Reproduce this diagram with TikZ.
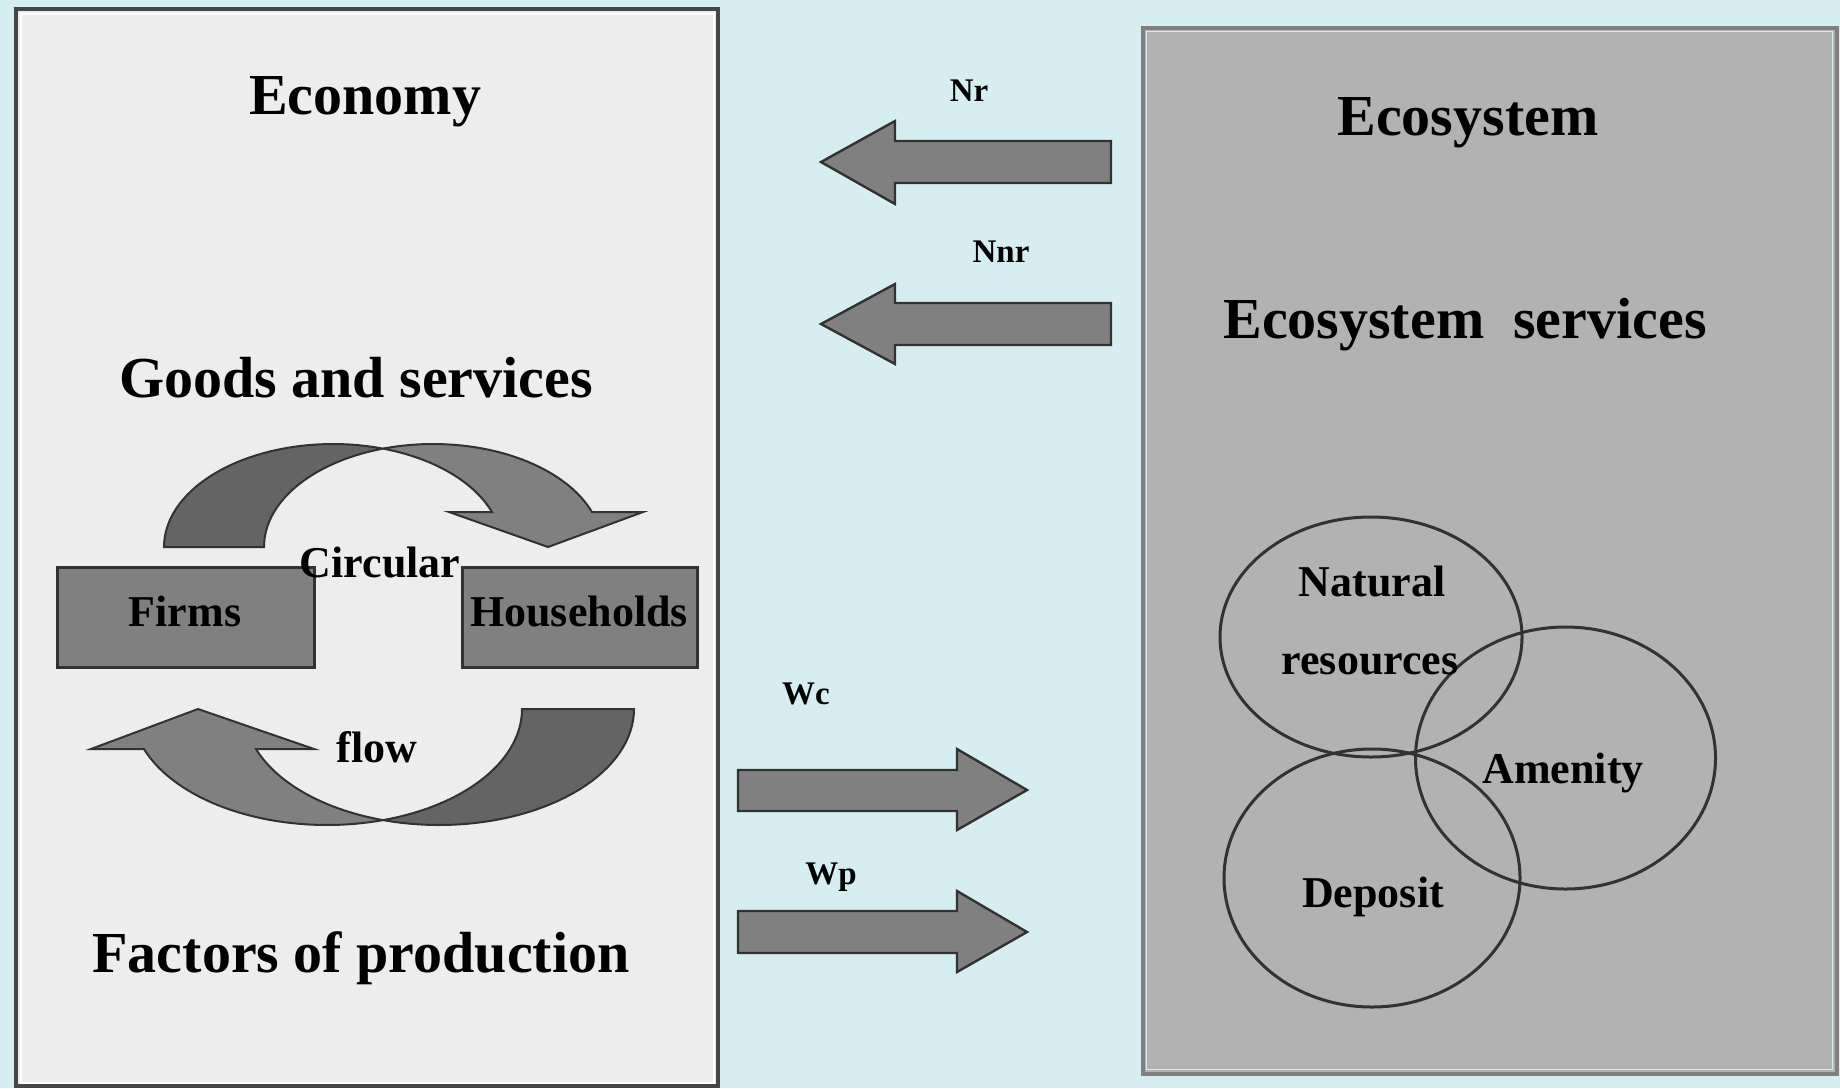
\documentclass[tikz,border=0pt]{standalone}
\usepackage{fontspec}
\setmainfont{Liberation Serif}
\definecolor{bg}{RGB}{214,238,242}
\definecolor{econfill}{RGB}{237,237,237}
\definecolor{ecofill}{RGB}{178,178,178}
\definecolor{arrowfill}{RGB}{128,128,128}
\definecolor{darkband}{RGB}{100,100,100}
\definecolor{edge}{RGB}{50,50,50}
\definecolor{ecoedge}{RGB}{128,128,128}
\tikzset{
  title/.style={font=\fontsize{29pt}{32pt}\selectfont\bfseries, inner sep=0pt, anchor=base},
  flowlbl/.style={font=\fontsize{16.5pt}{18pt}\selectfont\bfseries, inner sep=0pt, anchor=base},
  boxlbl/.style={font=\fontsize{22pt}{24pt}\selectfont\bfseries, inner sep=0pt, anchor=base},
  blockarrow/.style={fill=arrowfill, draw=edge, line width=1.2pt, line join=miter},
  bandlight/.style={fill=arrowfill, draw=edge, line width=1pt, line join=miter},
  banddark/.style={fill=darkband, draw=edge, line width=1pt, line join=miter},
  agentbox/.style={fill=arrowfill, draw=edge, line width=1.5pt},
  venn/.style={draw=edge, line width=1.5pt}
}
\begin{document}
\begin{tikzpicture}[x=0.5pt,y=-0.5pt]
\fill[bg] (0,0) rectangle (1840,1088);
\useasboundingbox (0,0) rectangle (1840,1088);

% Economy box
\fill[econfill] (16,9) rectangle (718,1086);
\draw[white, line width=1pt] (20.5,13.5) rectangle (713.5,1082.5);
\draw[edge!90, line width=2pt] (16,9) rectangle (718,1086);

% Ecosystem box
\fill[ecofill] (1142.5,27.5) rectangle (1836.5,1073.5);
\draw[bg, line width=0.7pt] (1146.5,31.5) rectangle (1832.5,1069.5);
\draw[ecoedge, line width=2pt] (1142.5,27.5) rectangle (1836.5,1073.5);

% titles
\node[title] (economy) at (365,114) {Economy};
\node[title] (goods) at (356,397) {Goods and services};
\node[title] (factors) at (361,972) {Factors of production};
\node[title] (ecosystem) at (1468,135) {Ecosystem};
\node[title] (ecoserv) at (1465,338) {Ecosystem\ \ services};

% block arrows between the sectors
\draw[blockarrow] (821,162) -- (895,121) -- (895,141) -- (1111,141) -- (1111,183) -- (895,183) -- (895,204) -- cycle;
\draw[blockarrow] (821,324) -- (895,284) -- (895,303) -- (1111,303) -- (1111,345) -- (895,345) -- (895,364) -- cycle;
\draw[blockarrow] (738,770) -- (957,770) -- (957,749) -- (1027,790) -- (957,830) -- (957,811) -- (738,811) -- cycle;
\draw[blockarrow] (738,911) -- (957,911) -- (957,891) -- (1027,932) -- (957,972) -- (957,953) -- (738,953) -- cycle;

\node[flowlbl] (nr) at (969,101) {Nr};
\node[flowlbl] (nnr) at (1001,262) {Nnr};
\node[flowlbl] (wc) at (806,704) {Wc};
\node[flowlbl] (wp) at (831,884) {Wp};

% Firms and households
\draw[agentbox] (57,567) rectangle (314,667);
\draw[agentbox] (462,567) rectangle (697,667);
\node[boxlbl] (firms) at (185,626) {Firms};
\node[boxlbl] (households) at (579,626) {Households};

% upper curved arrow (goods and services)
\draw[banddark]
  plot[domain=180:72.8, samples=40, variable=\t] ({333+169*cos(\t)},{547-103*sin(\t)})
  -- plot[domain=107.2:180, samples=40, variable=\t] ({433+169*cos(\t)},{547-103*sin(\t)})
  -- cycle;
\draw[bandlight]
  plot[domain=107.2:19.87, samples=40, variable=\t] ({433+169*cos(\t)},{547-103*sin(\t)})
  -- (643,512) -- (548,547) -- (449,512)
  -- plot[domain=19.87:72.8, samples=40, variable=\t] ({333+169*cos(\t)},{547-103*sin(\t)})
  -- cycle;

% lower curved arrow (factors of production)
\draw[banddark]
  plot[domain=0:106.7, samples=40, variable=\t] ({439+195*cos(\t)},{709+116*sin(\t)})
  -- plot[domain=73.3:0, samples=40, variable=\t] ({327+195*cos(\t)},{709+116*sin(\t)})
  -- cycle;
\draw[bandlight]
  plot[domain=73.3:159.8, samples=40, variable=\t] ({327+195*cos(\t)},{709+116*sin(\t)})
  -- (91,749) -- (198,709) -- (314,749)
  -- plot[domain=159.8:106.7, samples=40, variable=\t] ({439+195*cos(\t)},{709+116*sin(\t)})
  -- cycle;

\node[boxlbl] (circular) at (380,577) {Circular};
\node[boxlbl] (flow) at (377,762) {flow};

% Venn diagram of ecosystem services
\draw[venn] (1371,637) ellipse [x radius=151, y radius=120];
\draw[venn] (1565.5,758) ellipse [x radius=150, y radius=131];
\draw[venn] (1372,878) ellipse [x radius=148, y radius=129];
\node[boxlbl] (natural) at (1372,596) {Natural};
\node[boxlbl] (resources) at (1370,674) {resources};
\node[boxlbl] (amenity) at (1563,783) {Amenity};
\node[boxlbl] (deposit) at (1373,907) {Deposit};
\end{tikzpicture}
\end{document}
